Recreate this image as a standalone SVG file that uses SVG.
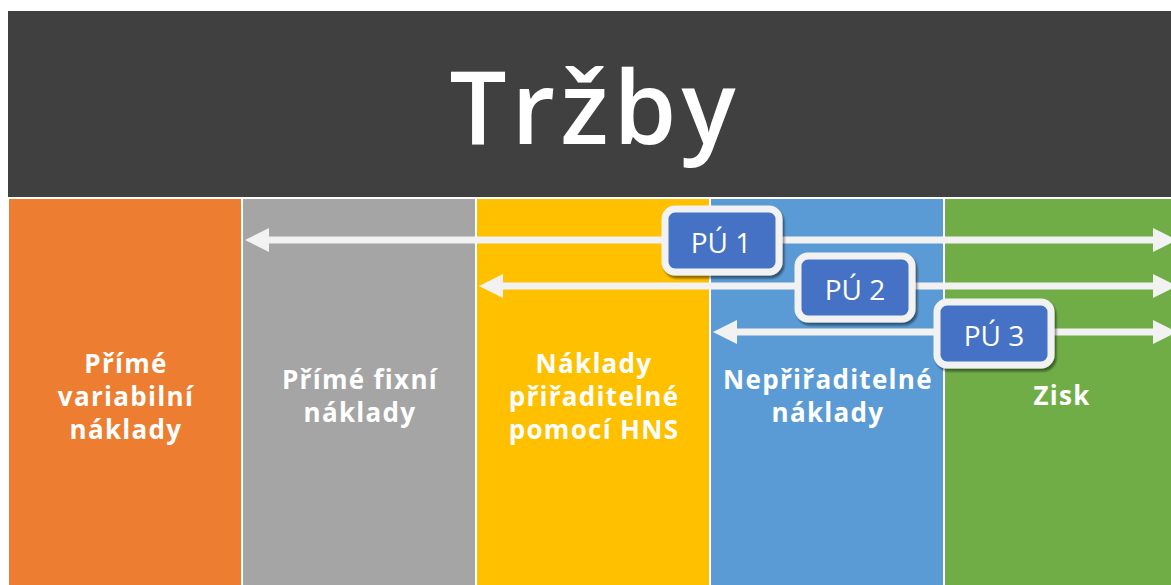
<svg xmlns="http://www.w3.org/2000/svg" width="1171" height="585" viewBox="0 0 1171 585">
  <defs>
    <style>
      .title { font-family: "Open Sans", "Noto Sans", "DejaVu Sans", sans-serif; font-size: 101px; font-weight: 600; fill: #ffffff; text-anchor: middle; letter-spacing: 5px; }
      .col { stroke: none; }
      .lbl { font-family: "Open Sans", "Noto Sans", "DejaVu Sans", sans-serif; font-size: 26px; font-weight: bold; fill: #ffffff; text-anchor: middle; letter-spacing: 1.3px; }
      .conn { stroke: #F2F2F2; stroke-width: 7; fill: none; marker-start: url(#head); marker-end: url(#head); }
      .pu rect { fill: #4472C4; stroke: #F2F2F2; stroke-width: 7; filter: url(#shadow); }
      .pu text { font-family: "Open Sans", "Noto Sans", "DejaVu Sans", sans-serif; font-size: 28px; fill: #ffffff; text-anchor: middle; }
    </style>
    <marker id="head" markerUnits="userSpaceOnUse" markerWidth="26" markerHeight="24" refX="1" refY="12" orient="auto-start-reverse" viewBox="0 0 26 24">
      <path d="M0,0 L24,12 L0,24 Z" fill="#F2F2F2"/>
    </marker>
    <filter id="shadow" x="-20%" y="-20%" width="140%" height="150%">
      <feDropShadow dx="2" dy="3" stdDeviation="1" flood-color="#000000" flood-opacity="0.45"/>
    </filter>
  </defs>

  <rect width="1171" height="585" fill="#ffffff"/>

  <!-- header band -->
  <g id="header">
    <rect x="8" y="11" width="1170" height="186" fill="#404040"/>
    <text class="title" x="595" y="144">Tržby</text>
  </g>

  <!-- cost columns -->
  <g id="col-variable">
    <rect class="col" x="9" y="199" width="232" height="386" fill="#ED7D31"/>
    <text class="lbl" x="126" y="373">Přímé</text>
    <text class="lbl" x="126" y="406">variabilní</text>
    <text class="lbl" x="126" y="439">náklady</text>
  </g>
  <g id="col-fixed">
    <rect class="col" x="243" y="199" width="232" height="386" fill="#A5A5A5"/>
    <text class="lbl" x="360" y="389">Přímé fixní</text>
    <text class="lbl" x="360" y="422">náklady</text>
  </g>
  <g id="col-hns">
    <rect class="col" x="477" y="199" width="232" height="386" fill="#FFC000"/>
    <text class="lbl" x="594" y="373">Náklady</text>
    <text class="lbl" x="594" y="406">přiřaditelné</text>
    <text class="lbl" x="594" y="439">pomocí HNS</text>
  </g>
  <g id="col-overhead">
    <rect class="col" x="711" y="199" width="232" height="386" fill="#5B9BD5"/>
    <text class="lbl" x="828" y="389">Nepřiřaditelné</text>
    <text class="lbl" x="828" y="422">náklady</text>
  </g>
  <g id="col-profit">
    <rect class="col" x="945" y="199" width="232" height="386" fill="#70AD47"/>
    <text class="lbl" x="1062" y="405">Zisk</text>
  </g>

  <!-- contribution margin spans -->
  <g id="connectors">
    <path class="conn" d="M268,240 H1154"/>
    <path class="conn" d="M502,286 H1154"/>
    <path class="conn" d="M736,332 H1154"/>
  </g>

  <g id="pu1" class="pu">
    <rect x="665" y="209" width="114" height="63" rx="10"/>
    <text x="721" y="253">PÚ 1</text>
  </g>
  <g id="pu2" class="pu">
    <rect x="798" y="256" width="114" height="63" rx="10"/>
    <text x="855" y="300">PÚ 2</text>
  </g>
  <g id="pu3" class="pu">
    <rect x="937" y="302" width="114" height="63" rx="10"/>
    <text x="994" y="346">PÚ 3</text>
  </g>
</svg>
